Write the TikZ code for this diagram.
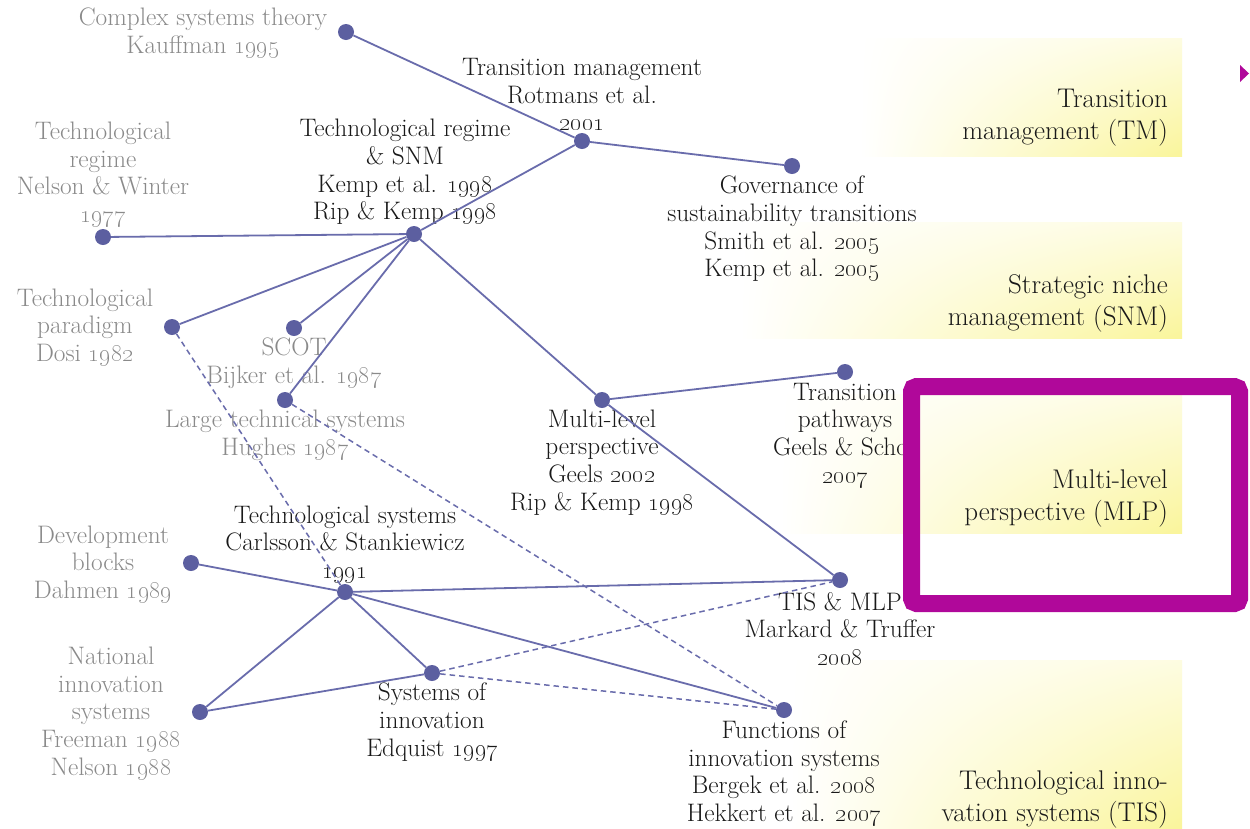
\documentclass[tikz,border=0pt]{standalone}
\usetikzlibrary{shadings}
\definecolor{dotc}{RGB}{92,95,160}
\definecolor{linec}{RGB}{105,108,172}
\definecolor{graytxt}{RGB}{138,138,138}
\definecolor{txt}{RGB}{25,25,25}
\definecolor{mag}{RGB}{176,8,154}
\definecolor{yel}{RGB}{250,245,155}
\newcommand{\osn}[1]{\oldstylenums{#1}}
\tikzset{
  dot/.style={circle, fill=dotc, inner sep=0pt, minimum size=16pt},
  lbl/.style={align=center, inner sep=0pt, text=txt, font=\fontsize{25.3}{27.7}\selectfont},
  glbl/.style={lbl, text=graytxt},
  rlbl/.style={anchor=east, align=right, inner sep=0pt, text=txt, font=\fontsize{27}{32}\selectfont},
  edge/.style={draw=linec, line width=1.8pt},
  dedge/.style={draw=linec, line width=1.5pt, dash pattern=on 5.5pt off 4pt},
  band/.style={upper left=white, lower left=white, upper right=yel!30!white, lower right=yel},
  magbox/.style={draw=mag, line width=17pt, rounded corners=5pt},
}
\begin{document}
\begin{tikzpicture}[x=1pt,y=-1pt]
\useasboundingbox (0,0) rectangle (1250,828);
\fill[white] (0,0) rectangle (1250,828);
% gradient bands
\shade[band] (860,38) rectangle (1182,156);
\shade[band] (740,222) rectangle (1182,338);
\shade[band] (780,394) rectangle (1182,533);
\shade[band] (790,660) rectangle (1182,828);
% labels
\node[glbl] (cstL) at (203,33) {Complex systems theory\\Kauffman \osn{1995}};
\node[lbl] (tmL) at (582,94.5) {Transition management\\Rotmans et al.\\\osn{2001}};
\node[lbl] (trsL) at (405,172) {Technological regime\\\& SNM\\Kemp et al. \osn{1998}\\Rip \& Kemp \osn{1998}};
\node[glbl] (trL) at (103,174.5) {Technological\\regime\\Nelson \& Winter\\\osn{1977}};
\node[lbl] (govL) at (792,229) {Governance of\\sustainability transitions\\Smith et al. \osn{2005}\\Kemp et al. \osn{2005}};
\node[glbl] (tpL) at (85,327.5) {Technological\\paradigm\\Dosi \osn{1982}};
\node[glbl] (scotL) at (294,363) {SCOT\\Bijker et al. \osn{1987}};
\node[glbl] (ltsL) at (285,435) {Large technical systems\\Hughes \osn{1987}};
\node[lbl] (mlpL) at (602,462.5) {Multi-level\\perspective\\Geels \osn{2002}\\Rip \& Kemp \osn{1998}};
\node[lbl] (tpathL) at (845,435.5) {Transition\\pathways\\Geels \& Schot\\\osn{2007}};
\node[glbl] (dbL) at (103,564.5) {Development\\blocks\\Dahmen \osn{1989}};
\node[lbl] (tsL) at (345,544.5) {Technological systems\\Carlsson \& Stankiewicz\\\osn{1991}};
\node[glbl] (nisL) at (111,713.5) {National\\innovation\\systems\\Freeman \osn{1988}\\Nelson \osn{1988}};
\node[lbl] (soiL) at (432,722) {Systems of\\innovation\\Edquist \osn{1997}};
\node[lbl] (tismlpL) at (840,629) {TIS \& MLP\\Markard \& Truffer\\\osn{2008}};
\node[lbl] (fisL) at (784,773.5) {Functions of\\innovation systems\\Bergek et al. \osn{2008}\\Hekkert et al. \osn{2007}};
% right-hand category labels
\node[rlbl] (tmR) at (1168,117.5) {Transition\\management (TM)};
\node[rlbl] (snmR) at (1168,303.5) {Strategic niche\\management (SNM)};
\node[rlbl] (mlpR) at (1168,498.5) {Multi-level\\perspective (MLP)};
\node[rlbl] (tisR) at (1168,799) {Technological inno-\\vation systems (TIS)};
% dots
\node[dot] (cst) at (346,32) {};
\node[dot] (tm) at (582,141) {};
\node[dot] (gov) at (792,166) {};
\node[dot] (trs) at (414,234) {};
\node[dot] (tr) at (103,237) {};
\node[dot] (tp) at (172,327) {};
\node[dot] (scot) at (294,328) {};
\node[dot] (lts) at (285,400) {};
\node[dot] (mlp) at (602,400) {};
\node[dot] (tpath) at (845,372) {};
\node[dot] (ts) at (345,592) {};
\node[dot] (db) at (191,563) {};
\node[dot] (nis) at (200,712) {};
\node[dot] (soi) at (432,673) {};
\node[dot] (tismlp) at (840,580) {};
\node[dot] (fis) at (784,710) {};
% solid connectors
\draw[edge] (cst) -- (tm);
\draw[edge] (tm) -- (gov);
\draw[edge] (tm) -- (trs);
\draw[edge] (trs) -- (tr);
\draw[edge] (trs) -- (tp);
\draw[edge] (trs) -- (scot);
\draw[edge] (trs) -- (lts);
\draw[edge] (trs) -- (mlp);
\draw[edge] (mlp) -- (tpath);
\draw[edge] (mlp) -- (tismlp);
\draw[edge] (ts) -- (db);
\draw[edge] (ts) -- (nis);
\draw[edge] (ts) -- (soi);
\draw[edge] (ts) -- (tismlp);
\draw[edge] (ts) -- (fis);
\draw[edge] (nis) -- (soi);
% dashed connectors
\draw[dedge] (tp) -- (ts);
\draw[dedge] (lts) -- (fis);
\draw[dedge] (soi) -- (tismlp);
\draw[dedge] (soi) -- (fis);
% magenta highlight
\draw[magbox] (911.5,386.5) rectangle (1239.5,603.5);
\fill[mag] (1240,65) -- (1249,73.5) -- (1240,82) -- cycle;
\end{tikzpicture}
\end{document}
